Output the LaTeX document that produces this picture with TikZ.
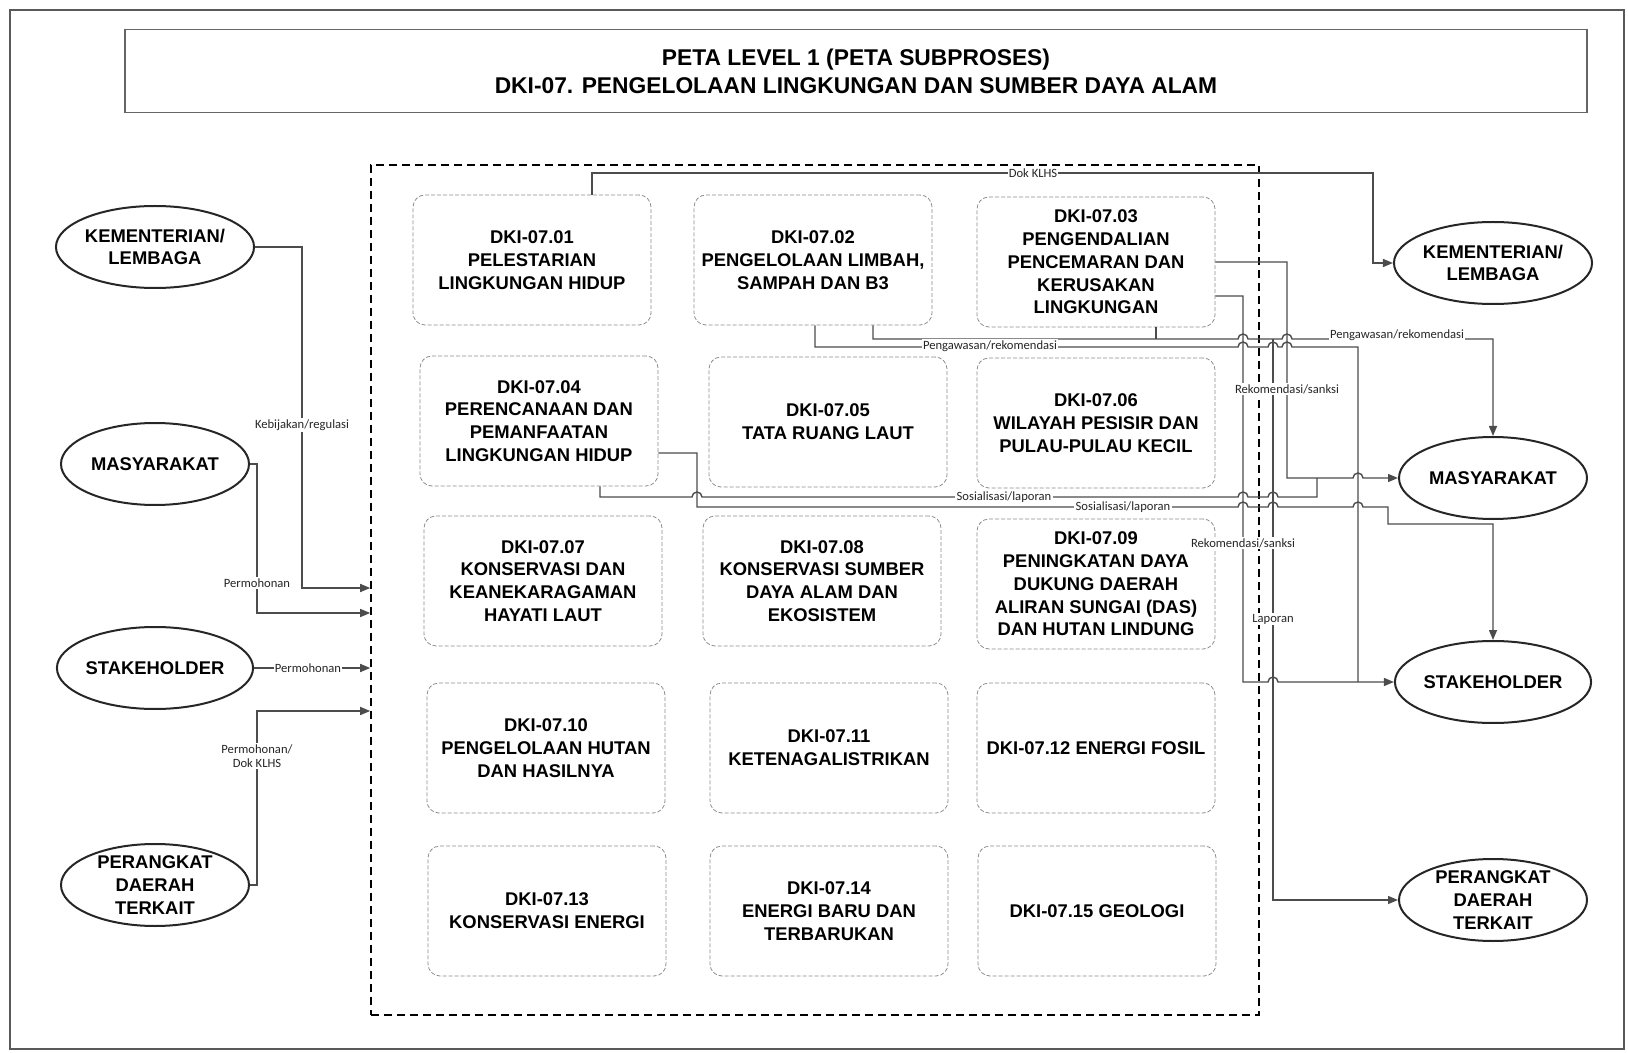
\documentclass[tikz,border=0pt]{standalone}
\usepackage{fontspec}
\setmainfont{Liberation Sans}
\newfontfamily\lblfont{Carlito}
\usetikzlibrary{arrows.meta, positioning, shapes.geometric}

\newcommand\lompat{arc[start angle=180, end angle=0, radius=2.5pt]}

\begin{document}
\begin{tikzpicture}[
  x=0.5pt, y=-0.5pt,
  font=\fontsize{9.2}{11.4}\selectfont\bfseries,
  proc/.style={draw=black!45, dash pattern=on 2pt off 1pt, rounded corners=6pt, minimum width=119pt, minimum height=65pt, align=center, inner sep=2pt},
  actor/.style={ellipse, draw=black!85, line width=1pt, minimum width=94pt, minimum height=41pt, align=center, inner sep=0pt},
  ln/.style={draw=black!70, line width=0.7pt},
  arr/.style={ln, -{Triangle[length=5pt, width=4pt]}},
  lbl/.style={font=\lblfont\fontsize{6.3}{7.2}\selectfont, fill=white, inner sep=0.6pt, text=black!85, align=center}
]
  \useasboundingbox (0,0) rectangle (1628,1053);
  \draw[black!65, line width=1.2pt] (10,10) rectangle (1624,1049);

  \node[draw=black!60, line width=0.8pt, minimum width=731pt, minimum height=41.5pt, align=center,
        font=\fontsize{11.4}{14}\selectfont\bfseries] (T) at (856,71)
    {PETA LEVEL 1 (PETA SUBPROSES)\\DKI-07. PENGELOLAAN LINGKUNGAN DAN SUMBER DAYA ALAM};

  \node[draw, line width=0.8pt, dash pattern=on 4pt off 2.5pt, minimum width=444pt, minimum height=425pt] (Z) at (815,590) {};

  % subproses
  \node[proc] (D01) at (532,260) {DKI-07.01\\PELESTARIAN\\LINGKUNGAN HIDUP};
  \node[proc] (D02) at (813,260) {DKI-07.02\\PENGELOLAAN LIMBAH,\\SAMPAH DAN B3};
  \node[proc] (D03) at (1096,262) {DKI-07.03\\PENGENDALIAN\\PENCEMARAN DAN\\KERUSAKAN\\LINGKUNGAN};
  \node[proc] (D04) at (539,421) {DKI-07.04\\PERENCANAAN DAN\\PEMANFAATAN\\LINGKUNGAN HIDUP};
  \node[proc] (D05) at (828,422) {DKI-07.05\\TATA RUANG LAUT};
  \node[proc] (D06) at (1096,423) {DKI-07.06\\WILAYAH PESISIR DAN\\PULAU-PULAU KECIL};
  \node[proc] (D07) at (543,581) {DKI-07.07\\KONSERVASI DAN\\KEANEKARAGAMAN\\HAYATI LAUT};
  \node[proc] (D08) at (822,581) {DKI-07.08\\KONSERVASI SUMBER\\DAYA ALAM DAN\\EKOSISTEM};
  \node[proc] (D09) at (1096,584) {DKI-07.09\\PENINGKATAN DAYA\\DUKUNG DAERAH\\ALIRAN SUNGAI (DAS)\\DAN HUTAN LINDUNG};
  \node[proc] (D10) at (546,748) {DKI-07.10\\PENGELOLAAN HUTAN\\DAN HASILNYA};
  \node[proc] (D11) at (829,748) {DKI-07.11\\KETENAGALISTRIKAN};
  \node[proc] (D12) at (1096,748) {DKI-07.12 ENERGI FOSIL};
  \node[proc] (D13) at (547,911) {DKI-07.13\\KONSERVASI ENERGI};
  \node[proc] (D14) at (829,911) {DKI-07.14\\ENERGI BARU DAN\\TERBARUKAN};
  \node[proc] (D15) at (1097,911) {DKI-07.15 GEOLOGI};

  % pihak luar
  \node[actor] (KL) at (155,247) {KEMENTERIAN/\\LEMBAGA};
  \node[actor] (ML) at (155,464) {MASYARAKAT};
  \node[actor] (SL) at (155,668) {STAKEHOLDER};
  \node[actor, inner ysep=-3pt] (PL) at (155,885) {PERANGKAT\\DAERAH\\TERKAIT};
  \node[actor] (KR) at (1493,263) {KEMENTERIAN/\\LEMBAGA};
  \node[actor] (MR) at (1493,478) {MASYARAKAT};
  \node[actor] (SR) at (1493,682) {STAKEHOLDER};
  \node[actor, inner ysep=-3pt] (PR) at (1493,900) {PERANGKAT\\DAERAH\\TERKAIT};

  % masukan
  \draw[arr] (KL.east) -| (302,588) -- ([yshift=1pt]Z.west);
  \draw[arr] (ML.east) -| (257,613) -- ([yshift=-11.5pt]Z.west);
  \draw[arr] (SL.east) -- (SL.east -| Z.west);
  \draw[arr] (PL.east) -| (257,711) -- ([yshift=-60.5pt]Z.west);
  \node[lbl] (l1) at (302,425) {Kebijakan/regulasi};
  \node[lbl] (l2) at (257,583) {Permohonan};
  \node[lbl] (l3) at (308,668) {Permohonan};
  \node[lbl] (l4) at (257,756) {Permohonan/\\Dok KLHS};

  % keluaran
  \coordinate (jLap) at (1273,339);
  \coordinate (jStk) at (1358,682);
  \coordinate (jMas) at (1317,478);
  \draw[arr] ([xshift=30pt]D01.north) |- (1373,173) |- (KR.west);
  \draw[arr] (D03.east) -| (1287,478) -- (1353,478) \lompat -- (MR.west);
  \draw[arr] ([yshift=-17pt]D03.east) -| (1243,682) -- (1268,682) \lompat -- (SR.west);
  \draw[arr] ([xshift=30pt]D02.south) |- (1238,339) \lompat -- (1282,339) \lompat -| (MR.north);
  \draw[ln] ([xshift=30pt]D03.south) -- ++(0,12);
  \draw[arr] (jLap) |- (PR.west);
  \draw[ln] ([xshift=1pt]D02.south) |- (1238,347) \lompat -- (1268,347) \lompat -- (1282,347) \lompat -| (jStk);
  \draw[ln] ([xshift=30.5pt]D04.south) |- (692,497) \lompat -- (1238,497) \lompat -- (1268,497) \lompat -| (jMas);
  \draw[arr] ([yshift=-16pt]D04.east) -| (697,507) -- (1238,507) \lompat -- (1268,507) \lompat -- (1353,507) \lompat -- (1388,507) |- (1493,524) -- (SR.north);
  \node[lbl] (l5) at (1033,173) {Dok KLHS};
  \node[lbl] (l6) at (990,346) {Pengawasan/rekomendasi};
  \node[lbl] (l7) at (1397,335) {Pengawasan/rekomendasi};
  \node[lbl] (l8) at (1287,389) {Rekomendasi/sanksi};
  \node[lbl] (l9) at (1243,543) {Rekomendasi/sanksi};
  \node[lbl] (l10) at (1273,619) {Laporan};
  \node[lbl] (l11) at (1004,497) {Sosialisasi/laporan};
  \node[lbl] (l12) at (1123,507) {Sosialisasi/laporan};
\end{tikzpicture}
\end{document}
